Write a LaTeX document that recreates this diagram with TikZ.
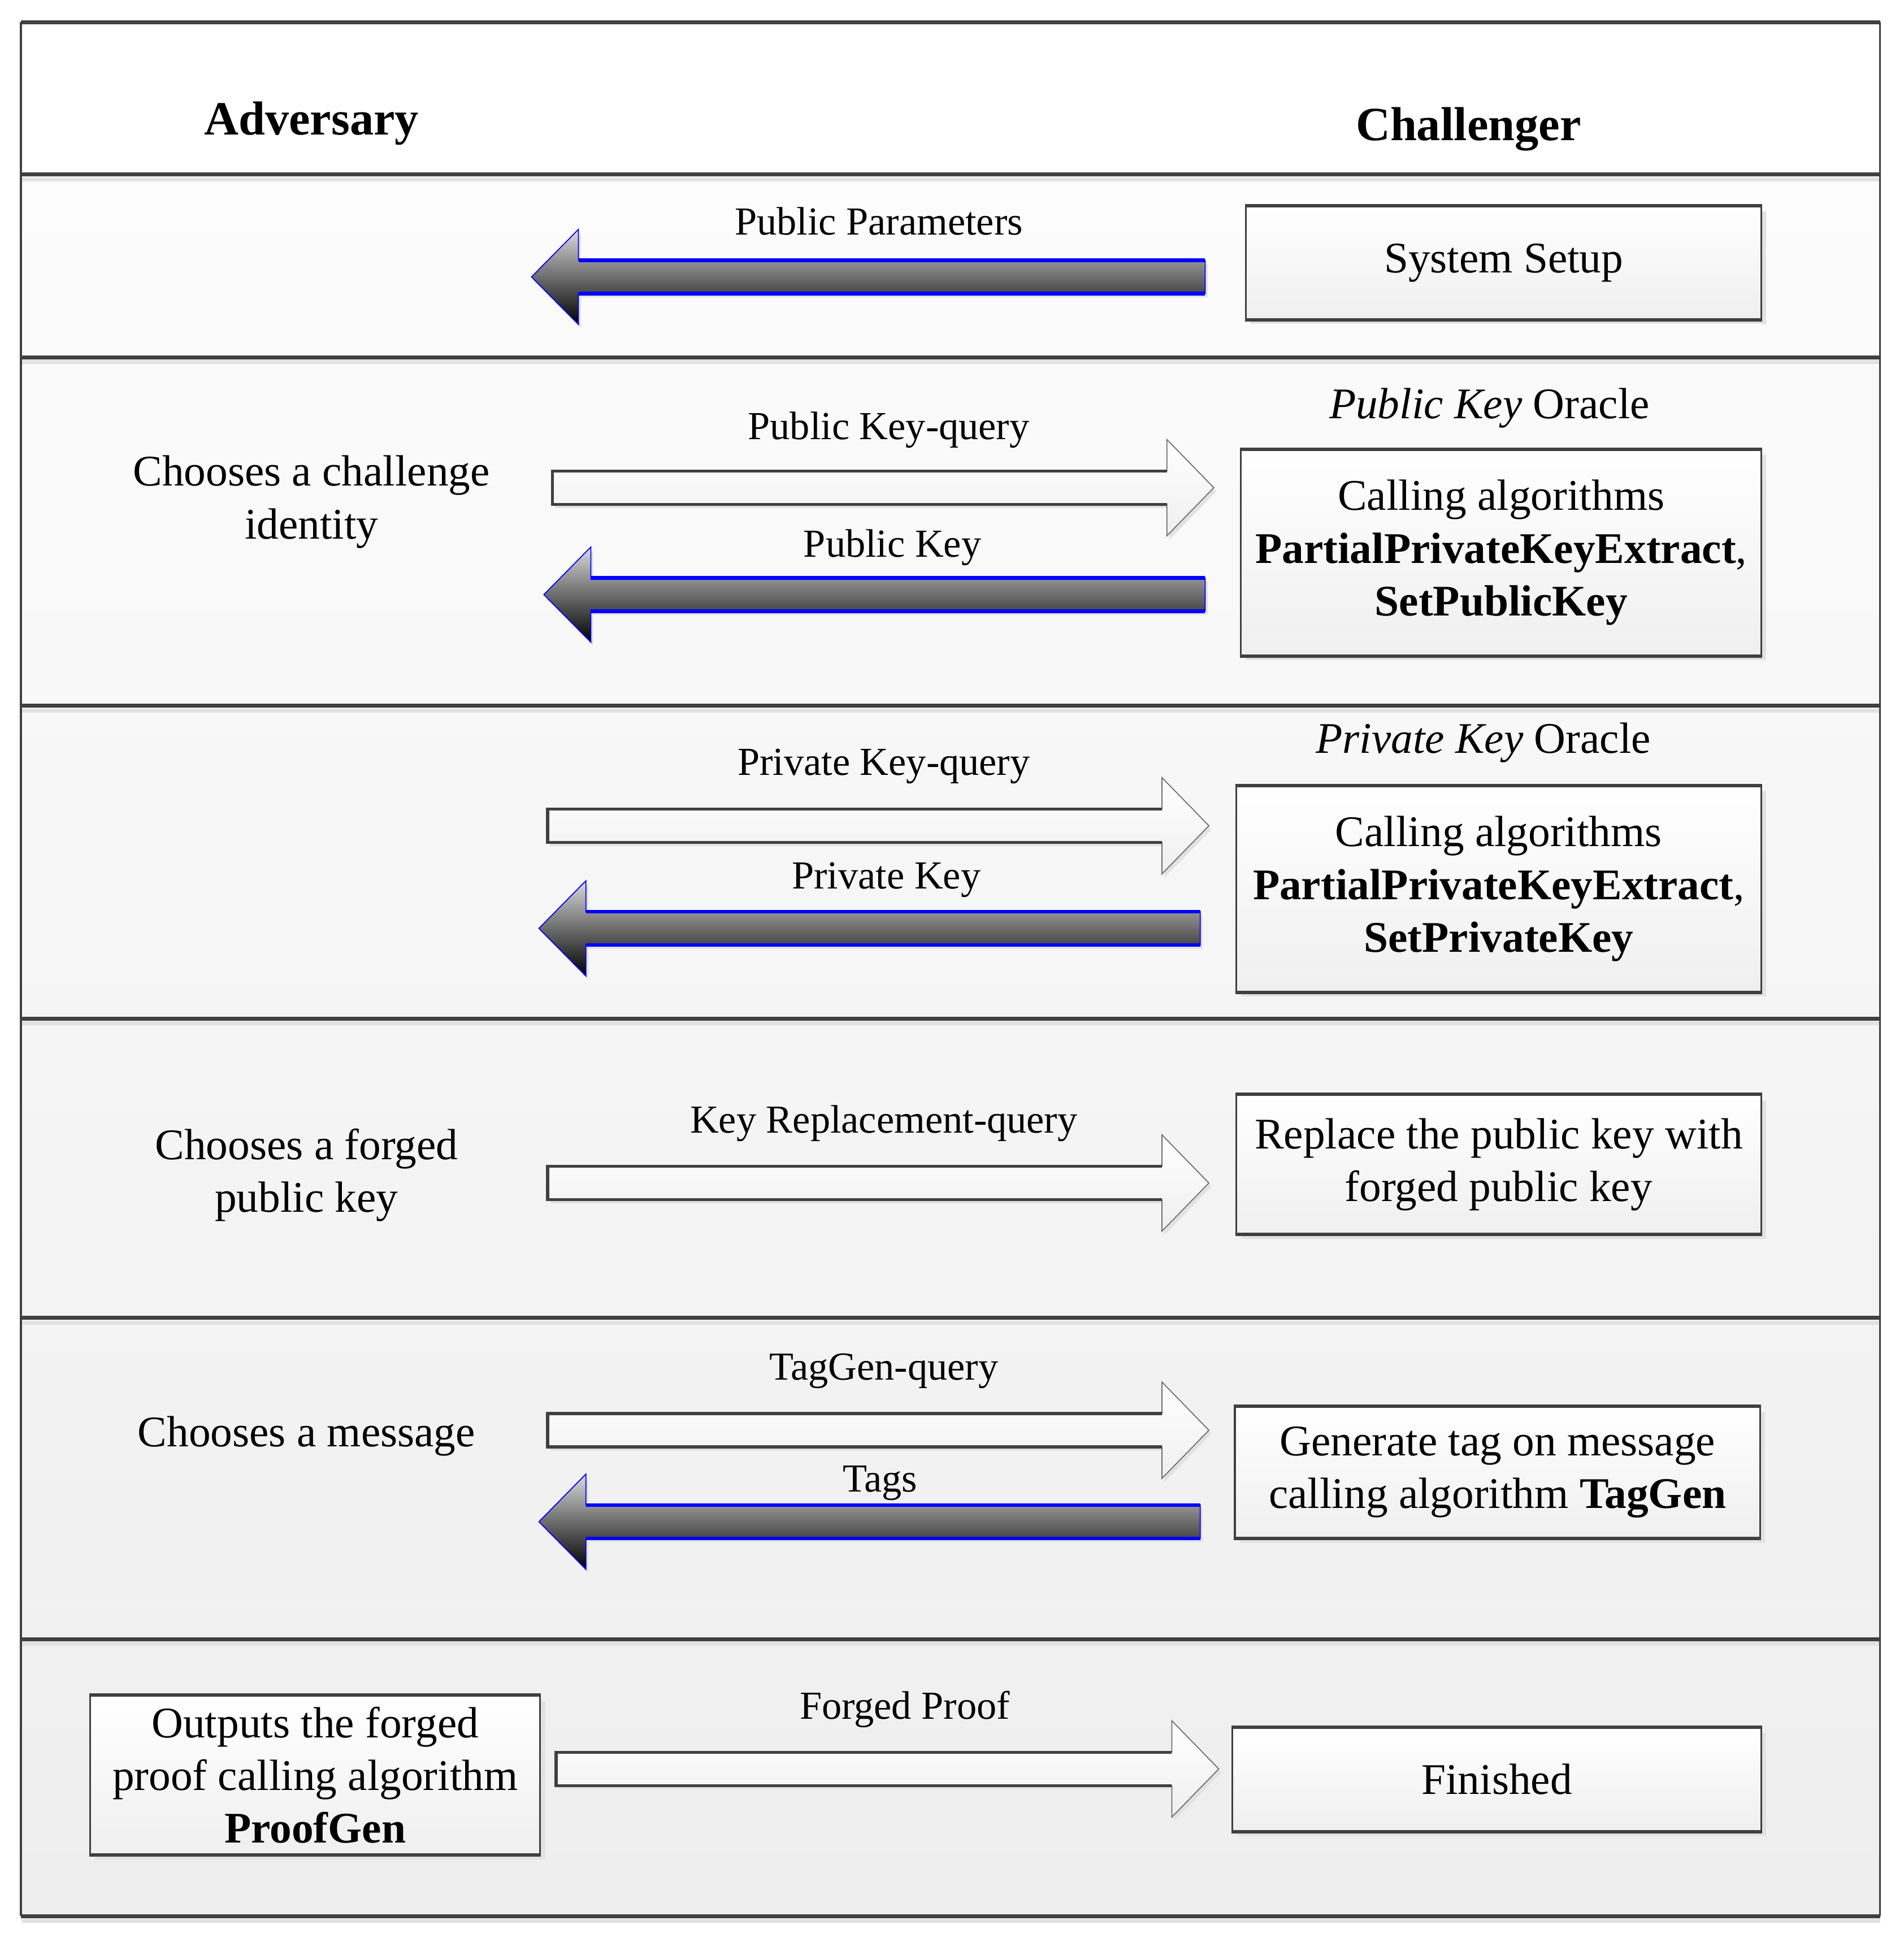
\documentclass[tikz,border=0pt]{standalone}
\usepackage{fontspec}
\setmainfont{Liberation Serif}
\usetikzlibrary{shadows}
\definecolor{linegray}{HTML}{404040}
\definecolor{shadowgray}{HTML}{E2E2E2}
\definecolor{boxbottom}{HTML}{EFEFEF}
\definecolor{bgtop}{HTML}{FCFCFC}
\definecolor{bgbot}{HTML}{EEEEEE}
\definecolor{headgray}{HTML}{6E6E6E}
\definecolor{arrtop}{HTML}{DADADA}
\definecolor{arrblue}{HTML}{0000FF}
\newcommand\boxfont{\fontsize{22}{26.5}\selectfont}
\newcommand\lblfont{\fontsize{20}{24}\selectfont}
\newcommand\headfont{\fontsize{24}{29}\selectfont\bfseries}
\def\pxu{0.02187cm}
\tikzset{
  box/.style={draw=linegray, line width=0.9pt, top color=white, bottom color=boxbottom,
    align=center, inner sep=0pt, font=\boxfont,
    drop shadow={shadow xshift=2.5pt, shadow yshift=-2.5pt, fill=shadowgray, opacity=1}},
  lbl/.style={font=\lblfont, inner sep=0pt, yshift=-0.065cm},
  txt/.style={font=\boxfont, align=center, inner sep=0pt, yshift=-0.065cm},
  head/.style={font=\headfont, inner sep=0pt, yshift=-0.08cm},
  hedge/.style={linegray, line width=1.6pt},
}
% dark block arrow pointing left: name, tip x, centre y, right end x
\newcommand\DarkArrow[4]{%
  \pgfmathsetmacro\hbx{#2+38}%
  \coordinate (#1-tip) at (#2,#3);
  \coordinate (#1-tail) at (#4,#3);
  \fill[shadowgray] (#2+2,#3+3) -- (\hbx+2,#3-35.5) -- (\hbx+2,#3-10.5) -- (#4+2,#3-10.5)
    -- (#4+2,#3+16.5) -- (\hbx+2,#3+16.5) -- (\hbx+2,#3+41.5) -- cycle;
  \shadedraw[top color=arrtop, bottom color=black, draw=arrblue, line width=0.5pt]
    (#1-tip) -- (\hbx,#3-38.5) -- (\hbx,#3-13.5) -- (#4,#3-13.5) -- (#4,#3+13.5)
    -- (\hbx,#3+13.5) -- (\hbx,#3+38.5) -- cycle;
  \draw[arrblue, line width=1.8pt] (\hbx,#3-13.5) -- (#4,#3-13.5) (\hbx,#3+13.5) -- (#4,#3+13.5);
}
% white block arrow pointing right: name, left x, centre y, tip x
\newcommand\WhiteArrow[4]{%
  \pgfmathsetmacro\hbx{#4-38}%
  \coordinate (#1-tail) at (#2,#3);
  \coordinate (#1-tip) at (#4,#3);
  \fill[shadowgray] (#2+2,#3-10.5) -- (\hbx+2,#3-10.5) -- (\hbx+2,#3-36) -- (#4+2,#3+3)
    -- (\hbx+2,#3+42) -- (\hbx+2,#3+16.5) -- (#2+2,#3+16.5) -- cycle;
  \shadedraw[top color=white, bottom color=boxbottom, draw=headgray, line width=0.5pt]
    (#2,#3-13.5) -- (\hbx,#3-13.5) -- (\hbx,#3-39) -- (#1-tip) -- (\hbx,#3+39)
    -- (\hbx,#3+13.5) -- (#2,#3+13.5) -- cycle;
  \draw[linegray, line width=1.6pt] (\hbx,#3-13.5) -- (#2,#3-13.5) -- (#2,#3+13.5) -- (\hbx,#3+13.5);
}
\newcommand\HEdges[1]{%
  \draw[hedge] (#1.north west) -- (#1.north east);
  \draw[hedge] (#1.south west) -- (#1.south east);
}
\begin{document}
\begin{tikzpicture}[x=0.02187cm,y=-0.02187cm]
\useasboundingbox (0,0) rectangle (1540,1571);
\fill[white] (0,0) rectangle (1540,1571);
\shade[top color=bgtop, bottom color=bgbot] (17,141) rectangle (1521,1550);
% frame and row dividers
\foreach \yy in {141,289,571,824,1066,1326,1550} {
  \draw[shadowgray, line width=2pt] (18,\yy+4) -- (1521,\yy+4);
  \draw[linegray, line width=2pt] (17,\yy) -- (1521,\yy);
}
\draw[linegray, line width=2pt] (17,18) -- (1521,18);
\draw[linegray, line width=1pt] (17,18) -- (17,1550);
\draw[linegray, line width=1pt] (1521,18) -- (1521,1550);

% headers
\node[head] (adv) at (252,96) {Adversary};
\node[head] (chal) at (1188,101) {Challenger};

% row 1
\node[box, minimum width={417*\pxu}, minimum height={91*\pxu}] (setup) at (1216.5,212.5) {System Setup};
\HEdges{setup}
\DarkArrow{a1}{430}{224}{975}
\node[lbl] (l1) at (711,176) {Public Parameters};

% row 2
\node[txt] (ch1) at (252,403) {Chooses a challenge\\identity};
\node[txt] (pko) at (1205,327) {\textit{Public Key} Oracle};
\node[box, minimum width={421*\pxu}, minimum height={166*\pxu}] (pkbox) at (1214.5,447)
  {Calling algorithms\\\textbf{PartialPrivateKeyExtract},\\\textbf{SetPublicKey}};
\HEdges{pkbox}
\WhiteArrow{w2}{447}{394.5}{982}
\DarkArrow{a2}{440}{481}{975}
\node[lbl] (l2a) at (719,345) {Public Key-query};
\node[lbl] (l2b) at (722,440) {Public Key};

% row 3
\node[txt] (sko) at (1200,598) {\textit{Private Key} Oracle};
\node[box, minimum width={425*\pxu}, minimum height={166*\pxu}] (skbox) at (1212.5,719)
  {Calling algorithms\\\textbf{PartialPrivateKeyExtract},\\\textbf{SetPrivateKey}};
\HEdges{skbox}
\WhiteArrow{w3}{443}{668}{978}
\DarkArrow{a3}{436}{751}{971}
\node[lbl] (l3a) at (715,617) {Private Key-query};
\node[lbl] (l3b) at (717,709) {Private Key};

% row 4
\node[txt] (ch2) at (248,947.5) {Chooses a forged\\public key};
\node[box, minimum width={425*\pxu}, minimum height={112*\pxu}] (repbox) at (1212.5,942)
  {Replace the public key with\\forged public key};
\HEdges{repbox}
\WhiteArrow{w4}{443}{957}{978}
\node[lbl] (l4) at (715,906) {Key Replacement-query};

% row 5
\node[txt] (ch3) at (248,1159) {Chooses a message};
\node[box, minimum width={425*\pxu}, minimum height={106*\pxu}] (tagbox) at (1211.5,1191)
  {Generate tag on message\\calling algorithm \textbf{TagGen}};
\HEdges{tagbox}
\WhiteArrow{w5}{443}{1157}{978}
\DarkArrow{a5}{436}{1231}{971}
\node[lbl] (l5a) at (715,1106) {TagGen-query};
\node[lbl] (l5b) at (712,1197) {Tags};

% row 6
\node[box, minimum width={364*\pxu}, minimum height={128*\pxu}] (proofbox) at (255,1436)
  {Outputs the forged\\proof calling algorithm\\\textbf{ProofGen}};
\HEdges{proofbox}
\node[box, minimum width={428*\pxu}, minimum height={83*\pxu}] (finbox) at (1211,1439.5) {Finished};
\HEdges{finbox}
\WhiteArrow{w6}{450}{1431}{986}
\node[lbl] (l6) at (732,1380) {Forged Proof};
\end{tikzpicture}
\end{document}
